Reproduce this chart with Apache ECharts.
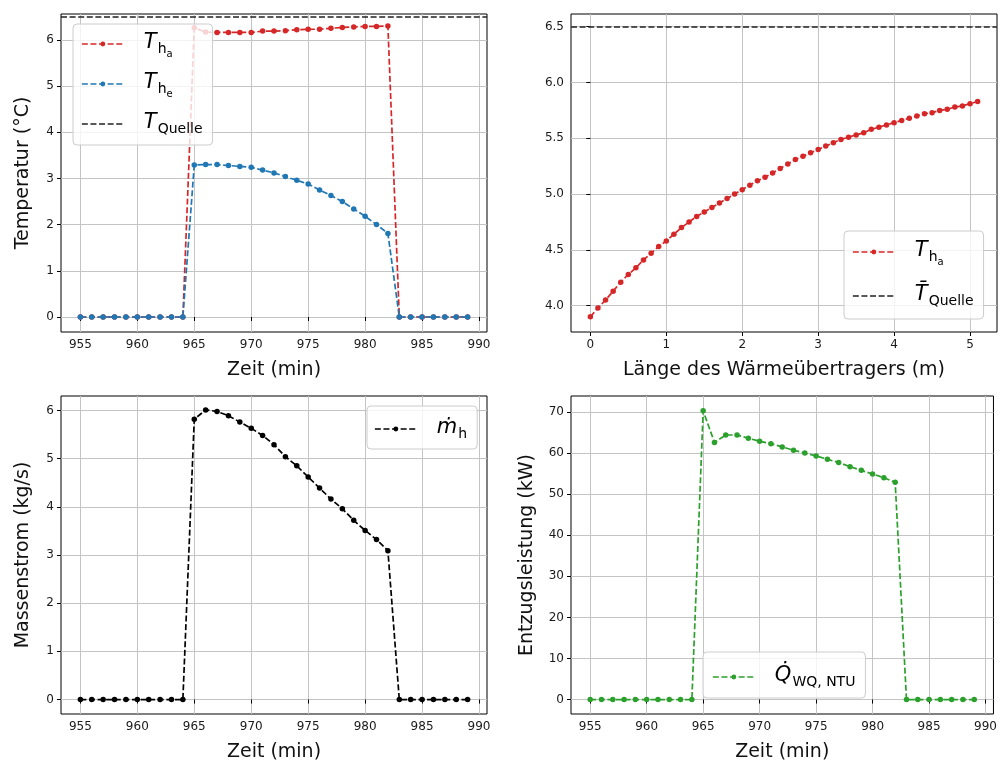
<!DOCTYPE html>
<html>
<head>
<meta charset="utf-8">
<script src="https://cdn.jsdelivr.net/npm/echarts@6.0.0/dist/echarts.min.js"></script>
<style>
html,body{margin:0;padding:0;background:#fff;}
#chart{width:1000px;height:764px;}
</style>
</head>
<body>
<div id="chart"></div>
<script>
// ---------- data ----------
const zeit = [955,956,957,958,959,960,961,962,963,964,965,966,967,968,969,970,971,972,973,974,975,976,977,978,979,980,981,982,983,984,985,986,987,988,989];
const tHa = [0,0,0,0,0,0,0,0,0,0,6.26,6.17,6.16,6.16,6.16,6.16,6.19,6.19,6.20,6.22,6.23,6.23,6.25,6.27,6.28,6.29,6.29,6.30,0,0,0,0,0,0,0];
const tHe = [0,0,0,0,0,0,0,0,0,0,3.29,3.30,3.30,3.28,3.26,3.24,3.18,3.12,3.04,2.96,2.88,2.75,2.63,2.50,2.34,2.18,2.00,1.81,0,0,0,0,0,0,0];
const tQuelle = 6.5;
const laenge = [0,0.1,0.2,0.3,0.4,0.5,0.6,0.7,0.8,0.9,1.0,1.1,1.2,1.3,1.4,1.5,1.6,1.7,1.8,1.9,2.0,2.1,2.2,2.3,2.4,2.5,2.6,2.7,2.8,2.9,3.0,3.1,3.2,3.3,3.4,3.5,3.6,3.7,3.8,3.9,4.0,4.1,4.2,4.3,4.4,4.5,4.6,4.7,4.8,4.9,5.0,5.1];
const tHaLaenge = [3.90,3.98,4.05,4.13,4.21,4.28,4.34,4.41,4.47,4.53,4.58,4.64,4.70,4.75,4.80,4.84,4.88,4.92,4.96,5.00,5.04,5.08,5.12,5.15,5.19,5.23,5.27,5.31,5.34,5.37,5.40,5.43,5.46,5.49,5.51,5.53,5.55,5.58,5.60,5.62,5.64,5.66,5.68,5.70,5.72,5.73,5.75,5.76,5.78,5.79,5.81,5.83];
const tQuelleMittel = 6.5;
const mDot = [0,0,0,0,0,0,0,0,0,0,5.82,6.01,5.98,5.89,5.76,5.63,5.48,5.29,5.04,4.85,4.62,4.39,4.16,3.96,3.72,3.51,3.32,3.09,0,0,0,0,0,0,0];
const qDot = [0,0,0,0,0,0,0,0,0,0,70.3,62.6,64.4,64.4,63.6,62.9,62.3,61.5,60.7,60.0,59.3,58.5,57.7,56.7,55.8,54.9,54.0,52.9,0,0,0,0,0,0,0];

const zeitTicks = [955,960,965,970,975,980,985,990];
const tempTicks = [0,1,2,3,4,5,6];
const laengeTicks = [0,1,2,3,4,5];
const tempTicks2 = [4.0,4.5,5.0,5.5,6.0,6.5];
const mTicks = [0,1,2,3,4,5,6];
const qTicks = [0,10,20,30,40,50,60,70];

// ---------- style ----------
const FONT = 'DejaVu Sans';
const RED = '#d62728', BLUE = '#1f77b4', GREEN = '#2ca02c', BLACK = '#000000';
const DASH = [6, 2.6];
const LW = 1.7;

function pairs(xs, ys){ return xs.map((x,i)=>[x, ys[i]]); }

function grid(left, top){ return {left:left, top:top, width:426, height:318, show:true, borderColor:'#000', borderWidth:1, containLabel:false}; }

function xAxis(gi, min, max, ticks, name){
  return {
    type:'value', gridIndex:gi, min:min, max:max,
    axisLine:{show:false},
    axisTick:{show:true, length:4, inside:false, lineStyle:{color:'#000', width:1}, customValues:ticks},
    axisLabel:{customValues:ticks, color:'#1a1a1a', fontFamily:FONT, fontSize:12, margin:7},
    splitLine:{show:true, lineStyle:{color:'#c4c4c4', width:1}},
    name:name, nameLocation:'middle', nameGap:29,
    nameTextStyle:{fontFamily:FONT, fontSize:19, color:'#111'}
  };
}
function yAxis(gi, min, max, ticks, name, gap, fmt){
  return {
    type:'value', gridIndex:gi, min:min, max:max,
    axisLine:{show:false},
    axisTick:{show:true, length:4, lineStyle:{color:'#000', width:1}, customValues:ticks},
    axisLabel:{customValues:ticks, color:'#1a1a1a', fontFamily:FONT, fontSize:12, margin:7, formatter: fmt || (v=>String(v))},
    splitLine:{show:true, lineStyle:{color:'#c4c4c4', width:1}},
    name:name, nameLocation:'middle', nameGap:gap || 28,
    nameTextStyle:{fontFamily:FONT, fontSize:19, color:'#111'}
  };
}
function lineSeries(name, gi, data, color, z){
  return {
    name:name, type:'line', xAxisIndex:gi, yAxisIndex:gi, data:data,
    symbol:'circle', symbolSize:5.5, showSymbol:true,
    lineStyle:{type:DASH, width:LW, color:color},
    itemStyle:{color:color},
    z:z||2, silent:true
  };
}
function hLine(name, gi, value){
  return {
    name:name, type:'line', xAxisIndex:gi, yAxisIndex:gi, data:[],
    symbol:'none',
    lineStyle:{type:DASH, width:LW, color:'#222'},
    itemStyle:{color:'#222'},
    markLine:{symbol:'none', silent:true, label:{show:false}, animation:false,
      lineStyle:{type:DASH, width:LW, color:'#222'}, data:[{yAxis:value}]},
    z:4
  };
}

const rich = {
  it:{fontFamily:FONT, fontStyle:'italic', fontSize:21, lineHeight:24, verticalAlign:'top', color:'#000'},
  sub:{fontFamily:FONT, fontSize:14, lineHeight:14, verticalAlign:'top', padding:[10,0,0,1], color:'#000'},
  ssub:{fontFamily:FONT, fontSize:10, lineHeight:10, verticalAlign:'top', padding:[17,0,0,0], color:'#000'}
};
const labels = {
  Tha1:'{it|T}{sub|h}{ssub|a}',
  The1:'{it|T}{sub|h}{ssub|e}',
  TQ1:'{it|T}{sub|Quelle}',
  Tha2:'{it|T}{sub|h}{ssub|a}',
  TQ2:'{it|T\u0304}{sub|Quelle}',
  m:'{it|\u1E41}{sub|h}',
  Q:'{it|Q\u0307}{sub|WQ, NTU}'
};
function legend(items, left, top, padding, gap){
  return {
    show:true, orient:'vertical', left:left, top:top, padding:padding, itemGap:gap||13,
    itemWidth:42, itemHeight:6, selectedMode:false,
    backgroundColor:'rgba(255,255,255,0.8)', borderColor:'#cccccc', borderWidth:1, borderRadius:4,
    data:items,
    formatter:(n)=>labels[n],
    textStyle:{rich:rich, padding:[0,0,0,15]},
    lineStyle:{type:DASH, width:LW},
    z:10
  };
}

const option = {
  animation:false,
  backgroundColor:'#fff',
  grid:[grid(61,14), grid(571,14), grid(61,396), grid(571,396)],
  xAxis:[
    xAxis(0, 953.3, 990.7, zeitTicks, 'Zeit (min)'),
    xAxis(1, -0.255, 5.355, laengeTicks, 'Länge des Wärmeübertragers (m)'),
    xAxis(2, 953.3, 990.7, zeitTicks, 'Zeit (min)'),
    xAxis(3, 953.3, 990.7, zeitTicks, 'Zeit (min)')
  ],
  yAxis:[
    yAxis(0, -0.325, 6.56, tempTicks, 'Temperatur (°C)', 28),
    yAxis(1, 3.764, 6.614, tempTicks2, '', 28, v=>v.toFixed(1)),
    yAxis(2, -0.3, 6.3, mTicks, 'Massenstrom (kg/s)', 28),
    yAxis(3, -3.52, 73.9, qTicks, 'Entzugsleistung (kW)', 34)
  ],
  legend:[
    legend(['Tha1','The1',{name:'TQ1', itemStyle:{opacity:0}}], 73, 24, [8,10,9,8], 13),
    legend(['Tha2',{name:'TQ2', itemStyle:{opacity:0}}], 844, 231, [9,10,11,8], 17),
    legend(['m'], 367, 406, [11,10,8,7], 10),
    legend(['Q'], 703, 652, [13,10,9,9], 10)
  ],
  series:[
    lineSeries('Tha1', 0, pairs(zeit, tHa), RED, 2),
    lineSeries('The1', 0, pairs(zeit, tHe), BLUE, 3),
    hLine('TQ1', 0, tQuelle),
    lineSeries('Tha2', 1, pairs(laenge, tHaLaenge), RED, 2),
    hLine('TQ2', 1, tQuelleMittel),
    lineSeries('m', 2, pairs(zeit, mDot), BLACK, 2),
    lineSeries('Q', 3, pairs(zeit, qDot), GREEN, 2)
  ]
};
const chart = echarts.init(document.getElementById('chart'), null, {renderer:'canvas'});
chart.setOption(option);
</script>
</body>
</html>
